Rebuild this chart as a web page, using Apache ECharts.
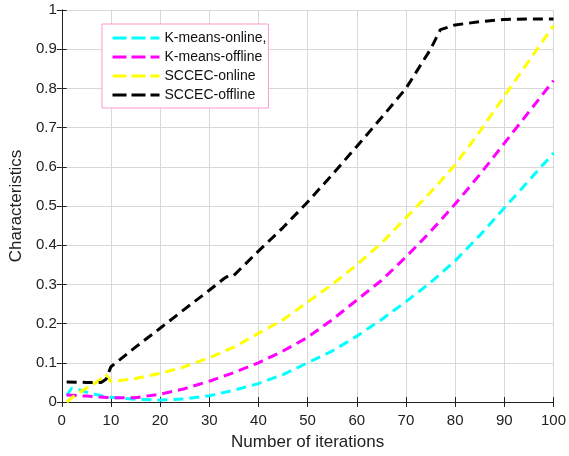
<!DOCTYPE html>
<html><head><meta charset="utf-8">
<script src="https://cdn.jsdelivr.net/npm/echarts@6/dist/echarts.min.js"></script>
<style>html,body{margin:0;padding:0;background:#fff}#c{width:569px;height:456px}</style>
</head><body><div id="c"></div>
<script>
const seriesNames = ['K-means-online,', 'K-means-offline', 'SCCEC-online', 'SCCEC-offline'];
const seriesColors = ['#00ffff', '#ff00ff', '#ffff00', '#000000'];

const kmOnX = [1,2,3,5,8,10,15,20,25,30,35,40,45,50,55,60,65,70,75,80,85,90,95,100];
const kmOnY = [0.016,0.035,0.034,0.025,0.016,0.012,0.007,0.005,0.008,0.016,0.03,0.047,0.07,0.1,0.13,0.168,0.21,0.256,0.305,0.36,0.425,0.495,0.565,0.635];

const kmOffX = [1,5,10,15,20,25,30,35,40,45,50,55,60,65,70,75,80,85,90,95,100];
const kmOffY = [0.018,0.015,0.011,0.011,0.02,0.034,0.053,0.075,0.1,0.13,0.165,0.21,0.26,0.31,0.37,0.435,0.505,0.58,0.66,0.74,0.82];

const scOnX = [1,3,5,7,9,10,15,20,25,30,35,40,45,50,55,60,65,70,75,80,85,90,95,100];
const scOnY = [0.0,0.02,0.035,0.05,0.07,0.052,0.06,0.073,0.09,0.113,0.14,0.175,0.21,0.255,0.3,0.35,0.405,0.47,0.535,0.605,0.69,0.78,0.87,0.96];

const scOffX = [1,5,8,9,10,15,20,25,30,33,34,35,40,45,50,55,60,65,70,75,77,80,85,90,95,100];
const scOffY = [0.051,0.05,0.05,0.058,0.09,0.14,0.188,0.237,0.285,0.315,0.323,0.323,0.385,0.445,0.51,0.58,0.652,0.725,0.8,0.9,0.95,0.962,0.97,0.976,0.977,0.977];

const xTicks = [0,10,20,30,40,50,60,70,80,90,100];
const yTicks = ['0','0.1','0.2','0.3','0.4','0.5','0.6','0.7','0.8','0.9','1'];

const allX = [kmOnX, kmOffX, scOnX, scOffX];
const allY = [kmOnY, kmOffY, scOnY, scOffY];

const font = 'Liberation Sans, Arial, sans-serif';
const chart = echarts.init(document.getElementById('c'));

const baseX = {
  type: 'value', min: xTicks[0], max: xTicks[xTicks.length-1], interval: 10,
  axisLine: {show: true, lineStyle: {color: '#222', width: 1}},
  axisTick: {show: true, inside: true, length: 5, lineStyle: {color: '#222'}},
  splitLine: {show: false}
};
const baseY = {
  type: 'value', min: 0, max: 1, interval: 0.1,
  axisLine: {show: true, lineStyle: {color: '#222', width: 1}},
  axisTick: {show: true, inside: true, length: 5, lineStyle: {color: '#222'}},
  splitLine: {show: false}
};

chart.setOption({
  animation: false,
  backgroundColor: '#fff',
  grid: {left: 58, right: 11, top: 10, bottom: 53, containLabel: false},
  legend: {
    orient: 'vertical', left: 102, top: 24,
    backgroundColor: '#fff', borderColor: '#ff99cc', borderWidth: 1,
    padding: [7, 2, 6, 9], itemGap: 5, itemWidth: 47, itemHeight: 14,
    itemStyle: {opacity: 0},
    lineStyle: {width: 3, type: [14, 5]},
    textStyle: {fontFamily: font, fontSize: 14, color: '#111', padding: [0,0,0,0]},
    data: seriesNames
  },
  xAxis: [
    Object.assign({}, baseX, {
      position: 'bottom',
      name: 'Number of iterations', nameLocation: 'middle', nameGap: 32,
      nameTextStyle: {fontFamily: font, fontSize: 17, color: '#222'},
      axisLabel: {fontFamily: font, fontSize: 15, color: '#222', margin: 11,
        formatter: v => String(v)},
      splitLine: {show: true, lineStyle: {color: '#d8d8d8', width: 1}}
    }),
    Object.assign({}, baseX, {position: 'top', axisLabel: {show: false}})
  ],
  yAxis: [
    Object.assign({}, baseY, {
      position: 'left',
      name: 'Characteristics', nameLocation: 'middle', nameGap: 32,
      nameTextStyle: {fontFamily: font, fontSize: 17, color: '#222'},
      axisLabel: {fontFamily: font, fontSize: 15, color: '#222', margin: 5,
        formatter: v => yTicks[Math.round(v * 10)]},
      splitLine: {show: true, lineStyle: {color: '#d8d8d8', width: 1}}
    }),
    Object.assign({}, baseY, {position: 'right', axisLabel: {show: false}})
  ],
  series: seriesNames.map((n, i) => ({
    name: n, type: 'line', xAxisIndex: 0, yAxisIndex: 0,
    symbol: 'none', smooth: false,
    color: seriesColors[i],
    lineStyle: {color: seriesColors[i], width: 3, type: [10, 6]},
    data: allX[i].map((x, j) => [x, allY[i][j]]),
    z: 2 + i
  }))
});
</script></body></html>
